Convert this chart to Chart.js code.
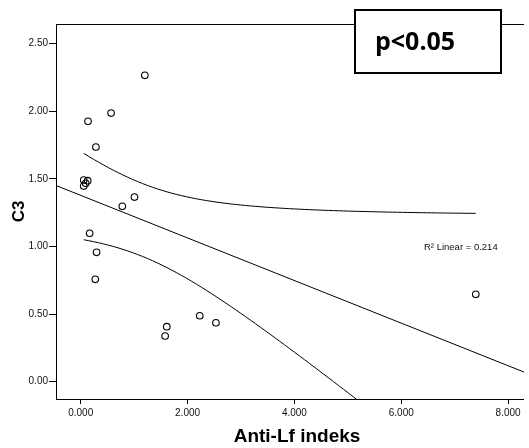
<!DOCTYPE html>
<html>
<head>
<meta charset="utf-8">
<script src="https://cdn.jsdelivr.net/npm/chart.js@4/dist/chart.umd.min.js"></script>
<style>
  html, body { margin: 0; padding: 0; background: #fff; }
  canvas { display: block; }
</style>
</head>
<body>
<canvas id="chart" width="529" height="448"></canvas>
<script>
// Anti-Lf indeks vs C3, one entry per patient
const antiLf = [1.20, 0.568, 0.136, 0.284, 0.056, 0.130, 0.093, 0.056, 1.006, 0.778, 0.167, 0.296, 0.272, 1.611, 1.580, 2.228, 2.531, 7.395];
const c3     = [2.266, 1.987, 1.926, 1.736, 1.492, 1.487, 1.468, 1.447, 1.366, 1.297, 1.098, 0.957, 0.757, 0.407, 0.338, 0.488, 0.436, 0.646];

const xTicks = [0, 2, 4, 6, 8];
const xTickLabels = ['0.000', '2.000', '4.000', '6.000', '8.000'];
const yTicks = [0, 0.5, 1, 1.5, 2, 2.5];
const yTickLabels = ['0.00', '0.50', '1.00', '1.50', '2.00', '2.50'];

const xRange = [-0.463, 8.296];
const yRange = [-0.128, 2.646];

const xTitle = 'Anti-Lf indeks';
const r2Text = 'R\u00B2 Linear = 0.214';
const pText = 'p<0.05';
const T_CRIT = 2.120; // t(0.975, df = 16)

// --- least squares fit + 95% CI for the mean ---
const n = antiLf.length;
const mx = antiLf.reduce((a, b) => a + b, 0) / n;
const my = c3.reduce((a, b) => a + b, 0) / n;
let sxx = 0, sxy = 0;
for (let i = 0; i < n; i++) {
    sxx += (antiLf[i] - mx) ** 2;
    sxy += (antiLf[i] - mx) * (c3[i] - my);
}
const slope = sxy / sxx;
const intercept = my - slope * mx;
const fit = x => intercept + slope * x;
let sse = 0;
for (let i = 0; i < n; i++) sse += (c3[i] - fit(antiLf[i])) ** 2;
const se = Math.sqrt(sse / (n - 2));
const halfWidth = x => T_CRIT * se * Math.sqrt(1 / n + (x - mx) ** 2 / sxx);

const xMin = Math.min(...antiLf), xMax = Math.max(...antiLf);
const upper = [], lower = [];
for (let i = 0; i <= 80; i++) {
    const x = xMin + (xMax - xMin) * i / 80;
    upper.push({ x, y: fit(x) + halfWidth(x) });
    lower.push({ x, y: fit(x) - halfWidth(x) });
}

const points = antiLf.map((x, i) => ({ x, y: c3[i] }));
const fitLine = xRange.map(x => ({ x, y: fit(x) }));

const lineStyle = { showLine: true, pointRadius: 0, borderColor: '#000', borderWidth: 1, fill: false, tension: 0 };

// top frame line, x title, p-value box and R² note
const extras = {
    id: 'extras',
    afterDraw(chart) {
        const { ctx, chartArea: a } = chart;
        ctx.save();
        ctx.strokeStyle = '#000';
        ctx.lineWidth = 1;
        ctx.beginPath();
        ctx.moveTo(a.left, a.top + 0.5);
        ctx.lineTo(a.right, a.top + 0.5);
        ctx.stroke();

        ctx.fillStyle = '#000';
        ctx.font = 'bold 19px "Liberation Sans"';
        ctx.textAlign = 'center';
        ctx.textBaseline = 'middle';
        ctx.fillText(xTitle, 297, 437);

        ctx.fillStyle = '#fff';
        ctx.fillRect(355, 10, 146, 63);
        ctx.lineWidth = 2;
        ctx.strokeRect(355, 10, 146, 63);
        ctx.fillStyle = '#000';
        ctx.font = 'bold 25px "Open Sans"';
        ctx.textAlign = 'left';
        ctx.textBaseline = 'alphabetic';
        ctx.fillText(pText, 375, 50);

        ctx.font = '9.5px "Liberation Sans"';
        ctx.fillStyle = '#111';
        ctx.textBaseline = 'middle';
        ctx.fillText(r2Text, 424, 247);
        ctx.restore();
    }
};

new Chart(document.getElementById('chart'), {
    type: 'scatter',
    data: {
        datasets: [
            { data: points, pointRadius: 3.3, pointBorderWidth: 1.1, pointBorderColor: '#000', pointBackgroundColor: 'rgba(0,0,0,0)' },
            { data: fitLine, ...lineStyle },
            { data: upper, ...lineStyle },
            { data: lower, ...lineStyle }
        ]
    },
    options: {
        responsive: false,
        devicePixelRatio: 1,
        animation: false,
        layout: { padding: { top: 24, right: 0, left: 0, bottom: 0 } },
        plugins: { legend: { display: false }, tooltip: { enabled: false } },
        scales: {
            x: {
                type: 'linear',
                min: xRange[0],
                max: xRange[1],
                afterBuildTicks: s => { s.ticks = xTicks.map(v => ({ value: v })); },
                afterFit: s => { s.height = 49; },
                ticks: {
                    autoSkip: false,
                    maxRotation: 0,
                    padding: 3,
                    color: '#111',
                    font: { family: 'Liberation Sans', size: 10 },
                    callback: v => xTickLabels[xTicks.indexOf(v)]
                },
                grid: { drawOnChartArea: false, drawTicks: true, tickLength: 5, color: '#000' },
                border: { display: true, color: '#000', width: 1 }
            },
            y: {
                type: 'linear',
                min: yRange[0],
                max: yRange[1],
                afterBuildTicks: s => { s.ticks = yTicks.map(v => ({ value: v })); },
                afterFit: s => { s.width = 56; },
                ticks: {
                    autoSkip: false,
                    padding: 1,
                    color: '#111',
                    font: { family: 'Liberation Sans', size: 10 },
                    callback: v => yTickLabels[yTicks.indexOf(v)]
                },
                grid: { drawOnChartArea: false, drawTicks: true, tickLength: 7, color: '#000' },
                border: { display: true, color: '#000', width: 1 },
                title: {
                    display: true,
                    text: 'C3',
                    color: '#000',
                    font: { family: 'Liberation Sans', size: 17, weight: 'bold' },
                    padding: { top: 9, bottom: 0 }
                }
            }
        }
    },
    plugins: [extras]
});
</script>
</body>
</html>
